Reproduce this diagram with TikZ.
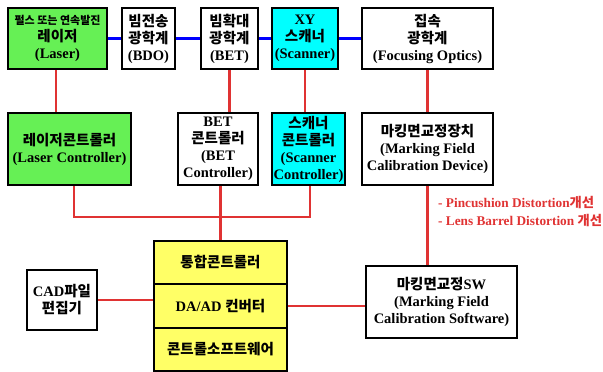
\documentclass[tikz,border=0pt]{standalone}
\usepackage{fontspec}
\setmainfont{Liberation Serif}
\newfontfamily\kr{Noto Sans CJK KR}
\definecolor{lgreen}{HTML}{66F055}
\definecolor{lcyan}{HTML}{00FFFF}
\definecolor{lyellow}{HTML}{FFFF66}
\definecolor{lred}{HTML}{E03333}
\definecolor{lblue}{HTML}{0000FF}
\tikzset{
  box/.style={draw=black, line width=2pt, align=center, inner sep=0pt,
    font=\bfseries\fontsize{14.5}{17}\selectfont},
  redline/.style={draw=lred, line width=2.2pt},
  blueline/.style={draw=lblue, line width=2.6pt},
}
\begin{document}
\begin{tikzpicture}[x=1pt,y=-1pt]
\useasboundingbox (0,0) rectangle (603,372);
% row 1
\node[box, fill=lgreen, minimum width=99pt, minimum height=61pt] (laser) at (57.5,38.5)
  {{\kr\fontsize{11}{13}\selectfont 펄스 또는 연속발진}\\{\kr 레이저}\\(Laser)};
\node[box, fill=white, minimum width=53pt, minimum height=61pt] (bdo) at (148.5,38.5)
  {{\kr 빔전송}\\{\kr 광학계}\\(BDO)};
\node[box, fill=white, minimum width=57pt, minimum height=61pt] (bet) at (229.5,38.5)
  {{\kr 빔확대}\\{\kr 광학계}\\(BET)};
\node[box, fill=lcyan, minimum width=66pt, minimum height=61pt] (scan) at (305,38.5)
  {XY\\{\kr 스캐너}\\(Scanner)};
\node[box, fill=white, minimum width=131pt, minimum height=61pt] (focus) at (427.5,38.5)
  {{\kr 집속}\\{\kr 광학계}\\(Focusing Optics)};
% row 2
\node[box, fill=lgreen, minimum width=123pt, minimum height=72pt] (lctrl) at (69.5,149)
  {{\kr 레이저콘트롤러}\\(Laser Controller)};
\node[box, fill=white, minimum width=80pt, minimum height=72pt] (bctrl) at (218,149)
  {BET\\{\kr 콘트롤러}\\(BET\\Controller)};
\node[box, fill=lcyan, minimum width=73pt, minimum height=72pt] (sctrl) at (308.5,149)
  {{\kr 스캐너}\\{\kr 콘트롤러}\\(Scanner\\Controller)};
\node[box, fill=white, minimum width=131pt, minimum height=72pt] (mfd) at (427.5,149)
  {{\kr 마킹면교정장치}\\(Marking Field\\Calibration Device)};
% stack
\node[box, fill=lyellow, minimum width=133pt, minimum height=43pt] (st1) at (220.5,262.5)
  {\kr 통합콘트롤러};
\node[box, fill=lyellow, minimum width=133pt, minimum height=44pt] (st2) at (220.5,306)
  {DA/AD {\kr 컨버터}};
\node[box, fill=lyellow, minimum width=133pt, minimum height=43pt] (st3) at (220.5,349.5)
  {\kr 콘트롤소프트웨어};
\node[box, fill=white, minimum width=70pt, minimum height=60pt] (cad) at (62,300)
  {CAD{\kr 파일}\\{\kr 편집기}};
\node[box, fill=white, minimum width=151pt, minimum height=72pt] (sw) at (441.5,302)
  {{\kr 마킹면교정}SW\\(Marking Field\\Calibration Software)};
% note
\node[anchor=west, align=left, inner sep=0pt, text=lred,
  font=\bfseries\fontsize{13.3}{18}\selectfont] (note) at (438,212)
  {- Pincushion Distortion{\kr 개선}\\- Lens Barrel Distortion {\kr 개선}};
% blue links
\draw[blueline] (laser.east) -- (bdo.west);
\draw[blueline] (bdo.east) -- (bet.west);
\draw[blueline] (bet.east) -- (scan.west);
\draw[blueline] (scan.east) -- (focus.west);
% red links
\draw[redline] ([xshift=-1.5pt]laser.south) -- ([xshift=-1.5pt]laser.south |- lctrl.north);
\draw[redline] (bet.south) -- (bet.south |- bctrl.north);
\draw[redline] (scan.south) -- (scan.south |- sctrl.north);
\draw[redline] (focus.south) -- (mfd.north);
\coordinate (jl) at (74,217);
\draw[redline] ([xshift=4.5pt]lctrl.south) |- (jl) -| ([xshift=1.5pt]sctrl.south);
\draw[redline] (st1.north) -- (st1.north |- bctrl.south);
\draw[redline] (cad.east) -- (cad.east -| st2.west);
\draw[redline] (st2.east) -- (st2.east -| sw.west);
\draw[redline] (mfd.south) -- (mfd.south |- sw.north);
\end{tikzpicture}
\end{document}
